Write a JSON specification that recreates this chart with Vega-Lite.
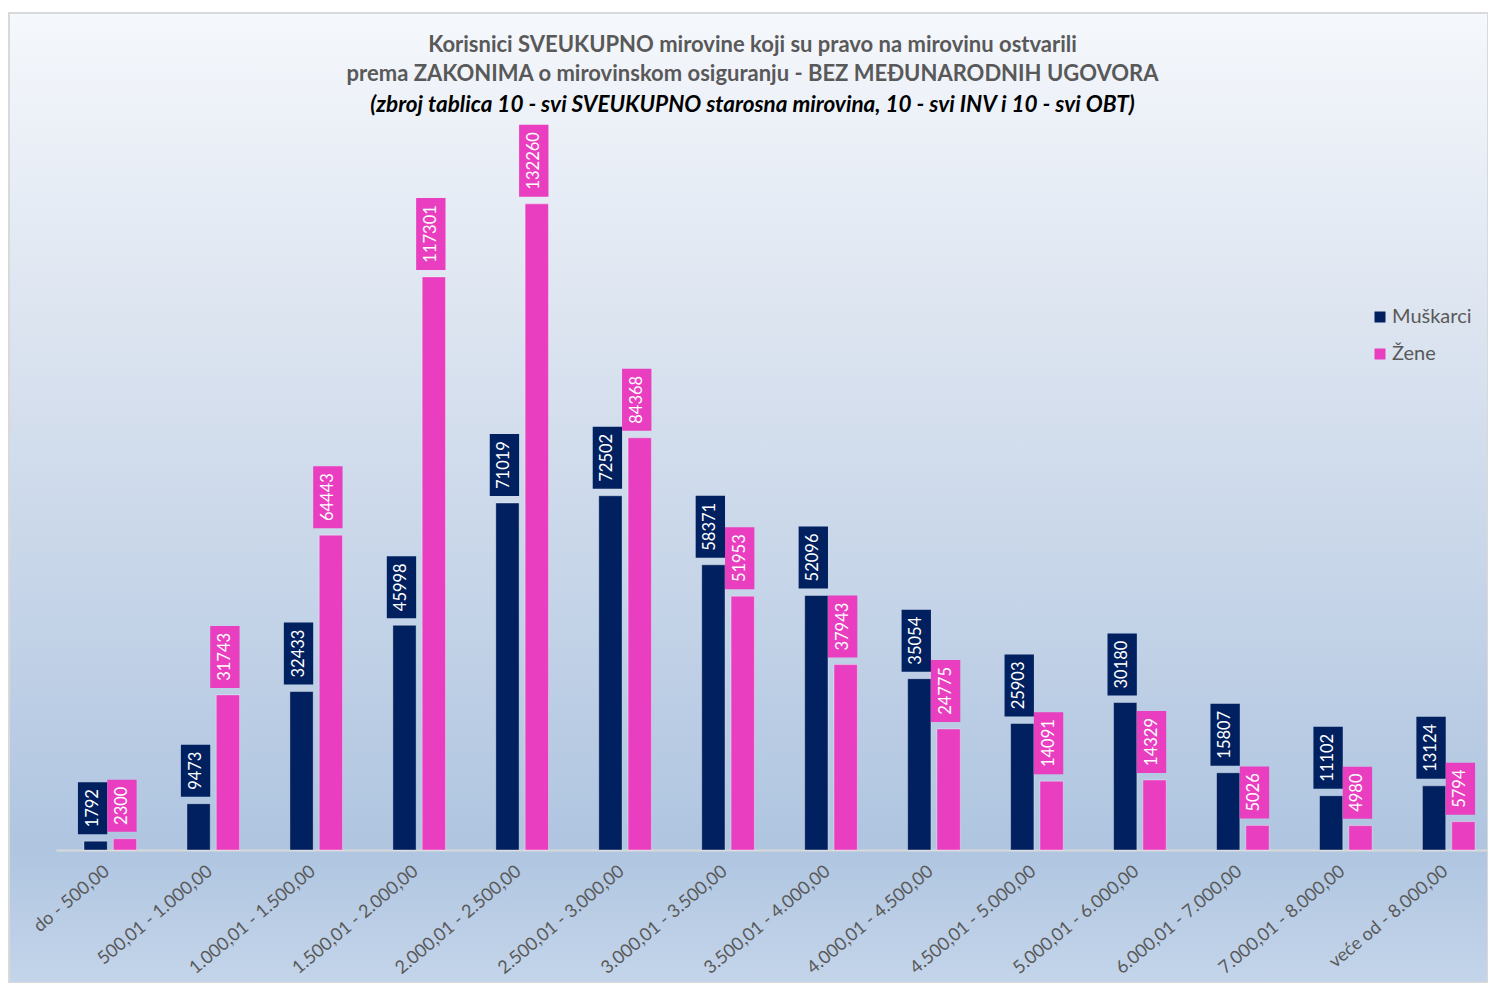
{
  "$schema": "https://vega.github.io/schema/vega-lite/v6.json",
  "autosize": {"type": "none"},
  "width": 1479,
  "height": 970,
  "padding": {"left": 9, "top": 13, "right": 0, "bottom": 0},
  "background": "white",
  "config": {
    "font": "Lato",
    "view": {
      "fill": {"gradient": "linear", "x1": 0, "y1": 0, "x2": 0, "y2": 1, "stops": [
        {"offset": 0, "color": "#F5F8FC"},
        {"offset": 0.32, "color": "#DCE4F0"},
        {"offset": 0.64, "color": "#C2D2E7"},
        {"offset": 0.86, "color": "#AFC5E0"},
        {"offset": 1, "color": "#C4D5EA"}
      ]},
      "stroke": "#D9D9D9",
      "strokeWidth": 2
    }
  },
  "title": {
    "text": ["Korisnici  SVEUKUPNO mirovine koji su pravo na mirovinu ostvarili", "prema ZAKONIMA o mirovinskom osiguranju - BEZ MEĐUNARODNIH UGOVORA"],
    "subtitle": "(zbroj tablica 10 - svi SVEUKUPNO starosna mirovina, 10 - svi INV i 10 - svi OBT)",
    "orient": "top",
    "anchor": "middle",
    "frame": "group",
    "offset": -104,
    "dx": 4,
    "font": "Lato",
    "fontSize": 22,
    "fontWeight": "bold",
    "color": "#595959",
    "lineHeight": 29,
    "subtitleFont": "Lato",
    "subtitleFontSize": 22.5,
    "subtitleFontWeight": "bold",
    "subtitleFontStyle": "italic",
    "subtitleColor": "#000000",
    "subtitleLineHeight": 29,
    "subtitlePadding": 8
  },
  "data": {"values": [
    {"range": "do - 500,00", "sex": "Muškarci", "count": 1792},
    {"range": "do - 500,00", "sex": "Žene", "count": 2300},
    {"range": "500,01 - 1.000,00", "sex": "Muškarci", "count": 9473},
    {"range": "500,01 - 1.000,00", "sex": "Žene", "count": 31743},
    {"range": "1.000,01 - 1.500,00", "sex": "Muškarci", "count": 32433},
    {"range": "1.000,01 - 1.500,00", "sex": "Žene", "count": 64443},
    {"range": "1.500,01 - 2.000,00", "sex": "Muškarci", "count": 45998},
    {"range": "1.500,01 - 2.000,00", "sex": "Žene", "count": 117301},
    {"range": "2.000,01 - 2.500,00", "sex": "Muškarci", "count": 71019},
    {"range": "2.000,01 - 2.500,00", "sex": "Žene", "count": 132260},
    {"range": "2.500,01 - 3.000,00", "sex": "Muškarci", "count": 72502},
    {"range": "2.500,01 - 3.000,00", "sex": "Žene", "count": 84368},
    {"range": "3.000,01 - 3.500,00", "sex": "Muškarci", "count": 58371},
    {"range": "3.000,01 - 3.500,00", "sex": "Žene", "count": 51953},
    {"range": "3.500,01 - 4.000,00", "sex": "Muškarci", "count": 52096},
    {"range": "3.500,01 - 4.000,00", "sex": "Žene", "count": 37943},
    {"range": "4.000,01 - 4.500,00", "sex": "Muškarci", "count": 35054},
    {"range": "4.000,01 - 4.500,00", "sex": "Žene", "count": 24775},
    {"range": "4.500,01 - 5.000,00", "sex": "Muškarci", "count": 25903},
    {"range": "4.500,01 - 5.000,00", "sex": "Žene", "count": 14091},
    {"range": "5.000,01 - 6.000,00", "sex": "Muškarci", "count": 30180},
    {"range": "5.000,01 - 6.000,00", "sex": "Žene", "count": 14329},
    {"range": "6.000,01 - 7.000,00", "sex": "Muškarci", "count": 15807},
    {"range": "6.000,01 - 7.000,00", "sex": "Žene", "count": 5026},
    {"range": "7.000,01 - 8.000,00", "sex": "Muškarci", "count": 11102},
    {"range": "7.000,01 - 8.000,00", "sex": "Žene", "count": 4980},
    {"range": "veće od  - 8.000,00", "sex": "Muškarci", "count": 13124},
    {"range": "veće od  - 8.000,00", "sex": "Žene", "count": 5794}
  ]},
  "encoding": {
    "x": {
      "field": "range", "type": "nominal", "sort": null,
      "scale": {"range": [47, 1488], "paddingInner": 0.43, "paddingOuter": 0.213},
      "axis": {
        "title": null, "orient": "bottom", "offset": -133,
        "domainColor": "#D9D9D9", "domainWidth": 2, "ticks": false,
        "labelAngle": -40, "labelAlign": "right", "labelBaseline": "middle",
        "labelFont": "Lato", "labelFontSize": 18, "labelColor": "#595959",
        "labelPadding": 19, "labelOverlap": false, "labelLimit": 0
      }
    },
    "xOffset": {"field": "sex", "type": "nominal", "sort": ["Muškarci", "Žene"], "scale": {"paddingInner": 0, "paddingOuter": 0}},
    "y": {"field": "count", "type": "quantitative", "scale": {"domain": [-27230, 171330], "nice": false, "zero": false}, "axis": null},
    "color": {
      "field": "sex", "type": "nominal",
      "scale": {"domain": ["Muškarci", "Žene"], "range": ["#002060", "#E83EBF"]},
      "legend": {
        "orient": "none", "legendX": 1361, "legendY": 294, "title": null,
        "symbolType": "square", "symbolSize": 121, "symbolStrokeWidth": 0,
        "labelFont": "Lato", "labelFontSize": 20, "labelColor": "#595959",
        "labelOffset": 2, "rowPadding": 17
      }
    }
  },
  "layer": [
    {"mark": {"type": "bar", "width": {"band": 0.794}, "stroke": "#FFFFFF", "strokeOpacity": 0.35, "strokeWidth": 1}},
    {
      "mark": {"type": "rect", "yOffset": -7, "y2Offset": {"expr": "-19 - 10*length(toString(datum.count))"}},
      "encoding": {"y2": {"field": "count"}}
    },
    {
      "mark": {"type": "text", "angle": 270, "align": "center", "baseline": "middle", "font": "Lato", "fontSize": 16.5, "yOffset": {"expr": "-13 - 5*length(toString(datum.count))"}},
      "encoding": {"text": {"field": "count", "type": "quantitative", "format": "d"}, "color": {"value": "#FFFFFF"}}
    }
  ]
}
